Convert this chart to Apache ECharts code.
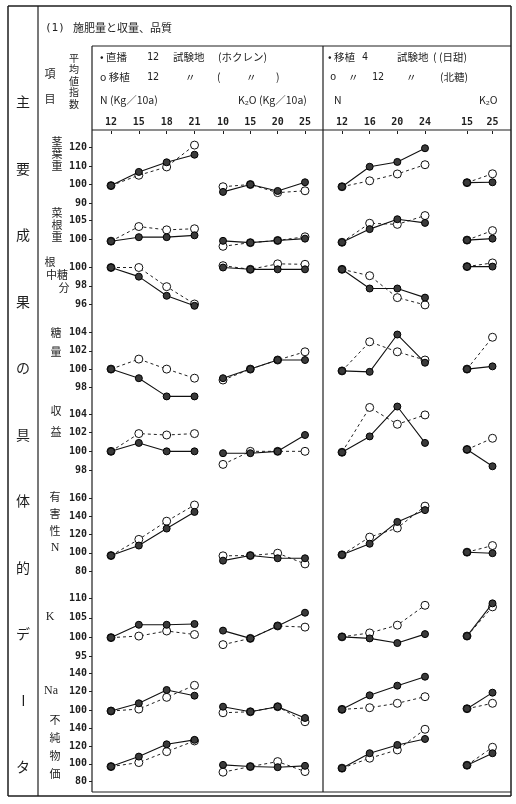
<!DOCTYPE html>
<html>
<head>
<meta charset="utf-8">
<script src="https://cdn.jsdelivr.net/npm/echarts@6/dist/echarts.min.js"></script>
<style>
html,body{margin:0;padding:0;background:#fff}
#main{width:516px;height:804px}
</style>
</head>
<body>
<div id="main"></div>
<script>
// x categories: N / K2O for both test sites
var xN1 = ['12', '15', '18', '21'];
var xK1 = ['10', '15', '20', '25'];
var xN2 = ['12', '16', '20', '24'];
var xK2 = ['15', '25'];

var rowNames = ['茎葉重', '菜根重', '根中糖分', '糖量', '収益', '有害性N', 'K', 'Na', '不純物価'];
var yMin  = [90, 100, 96, 98, 98, 80, 95, 100, 80];
var yMax  = [120, 105, 100, 104, 104, 160, 110, 140, 140];
var yStep = [10, 5, 2, 2, 2, 20, 5, 20, 20];

// each row: N(ホクレン) 4, K2O(ホクレン) 4, N(日甜/北糖) 4, K2O 2
var kyoyoFilled  = [99.4, 106.8, 112, 116.1, 96, 100, 96.5, 101.2, 98.8, 109.6, 112.2, 119.6, 101, 101.2];
var kyoyoOpen    = [99.4, 105, 109.5, 121.3, 98.8, 100, 95.6, 96.6, 98.8, 102, 105.7, 110.7, 101, 105.8];
var konFilled    = [99.4, 100.5, 100.5, 101, 99.5, 99, 99.6, 100.1, 99.1, 102.7, 105.4, 104.4, 99.7, 100.1];
var konOpen      = [99.4, 103.4, 102.5, 102.8, 98, 99, 99.6, 100.6, 99.1, 104.3, 104, 106.4, 99.7, 102.3];
var toubunFilled = [100, 99, 96.9, 95.8, 100, 99.8, 99.8, 99.8, 99.8, 97.7, 97.7, 96.7, 100.1, 100.1];
var toubunOpen   = [100, 100, 97.9, 96.0, 100.2, 99.8, 100.4, 100.35, 99.8, 99.1, 96.7, 95.9, 100.1, 100.5];
var touryoFilled = [100, 99, 97, 97, 99, 100, 101, 101, 99.8, 99.7, 103.8, 100.7, 100, 100.3];
var touryoOpen   = [100, 101.1, 100, 99, 98.8, 100, 101, 101.9, 99.8, 103, 101.9, 101, 100, 103.5];
var shuekiFilled = [100, 100.9, 100, 100, 99.8, 99.8, 100, 101.75, 99.9, 101.6, 104.8, 100.9, 100.2, 98.4];
var shuekiOpen   = [100, 101.9, 101.75, 101.9, 98.6, 100, 100, 100, 99.9, 104.7, 102.9, 103.9, 100.2, 101.4];
var gaiNFilled   = [97, 108, 126.7, 145, 91.4, 97, 94, 94, 97.8, 110, 134, 147, 100.7, 99.6];
var gaiNOpen     = [97, 114.8, 134.8, 152.6, 96.7, 97, 99.6, 87.8, 97.8, 117.3, 127.3, 151.4, 100.7, 108];
var kFilled      = [99.9, 103.2, 103.2, 103.4, 101.7, 99.7, 102.9, 106.3, 100.1, 99.7, 98.5, 100.8, 100.3, 108.7];
var kOpen        = [99.9, 100.3, 101.6, 100.7, 98.1, 99.7, 102.9, 102.6, 100.1, 101.1, 103.1, 108.2, 100.3, 107.8];
var naFilled     = [98.9, 107.3, 121.8, 115.6, 103.6, 98.1, 103.6, 91.3, 100.7, 116, 126.5, 136.3, 101.4, 118.9];
var naOpen       = [98.9, 101, 113.8, 126.9, 97, 98.1, 103.6, 87.2, 100.7, 102.5, 107.3, 114.5, 101.4, 107.3];
var fujunFilled  = [97, 108.2, 122, 127, 98.9, 97, 96.3, 97.8, 95.2, 112, 121.3, 128, 98.5, 112];
var fujunOpen    = [97, 101.5, 113.8, 125.8, 90.7, 97, 102.6, 91.4, 95.2, 106.4, 115.7, 138.9, 98.5, 118.7];

var filledRows = [kyoyoFilled, konFilled, toubunFilled, touryoFilled, shuekiFilled, gaiNFilled, kFilled, naFilled, fujunFilled];
var openRows   = [kyoyoOpen, konOpen, toubunOpen, touryoOpen, shuekiOpen, gaiNOpen, kOpen, naOpen, fujunOpen];

// layout (pixels)
var rowTop    = [147.5, 220.7, 267.5, 332.7, 414, 498.3, 598.3, 673.3, 728.3];
var rowBottom = [203, 239, 304, 387.3, 470, 571, 656.7, 710, 781.7];
var colLeft   = [111, 223, 342, 467];
var colWidth  = [83.5, 82, 83, 25.5];
var colCats   = [xN1, xK1, xN2, xK2];

var MONO = '"DejaVu Sans Mono", monospace';
var JP = '"Noto Sans CJK JP", sans-serif';
var INK = '#1e1e1e';

var grids = [], xAxes = [], yAxes = [], series = [];
for (var r = 0; r < rowNames.length; r++) {
	var start = 0;
	for (var g = 0; g < 4; g++) {
		var idx = grids.length;
		var n = colCats[g].length;
		grids.push({left: colLeft[g], width: colWidth[g], top: rowTop[r], height: rowBottom[r] - rowTop[r]});
		xAxes.push({
			gridIndex: idx, type: 'category', data: colCats[g], boundaryGap: false,
			show: r === 0, position: 'top', offset: rowTop[0] - 131,
			axisLine: {show: false},
			axisTick: {show: true, inside: true, length: 3, lineStyle: {color: INK}},
			axisLabel: {margin: 4, fontSize: 10, fontFamily: MONO, fontWeight: 'bold', color: INK}
		});
		yAxes.push({
			gridIndex: idx, type: 'value', min: yMin[r], max: yMax[r], interval: yStep[r],
			show: g === 0, position: 'left', offset: colLeft[0] - 92,
			axisLine: {show: false},
			axisTick: {show: true, length: 3, lineStyle: {color: INK}},
			axisLabel: {margin: 5, fontSize: 10, fontFamily: MONO, fontWeight: 'bold', color: INK},
			splitLine: {show: false}
		});
		series.push({
			type: 'line', xAxisIndex: idx, yAxisIndex: idx, clip: false, silent: true, z: 2,
			name: g < 2 ? '移植12(ホクレン)' : '移植12(北糖)',
			data: openRows[r].slice(start, start + n),
			symbol: 'circle', symbolSize: 8,
			itemStyle: {color: '#fff', borderColor: '#111', borderWidth: 1},
			lineStyle: {color: '#222', width: 1, type: [3, 3]}
		});
		series.push({
			type: 'line', xAxisIndex: idx, yAxisIndex: idx, clip: false, silent: true, z: 3,
			name: g < 2 ? '直播12(ホクレン)' : '移植4(日甜)',
			data: filledRows[r].slice(start, start + n),
			symbol: 'circle', symbolSize: 7,
			itemStyle: {color: '#3a3a3a', borderColor: '#000', borderWidth: 1},
			lineStyle: {color: '#111', width: 1.1}
		});
		start += n;
	}
}

function line(x1, y1, x2, y2, w) {
	return {type: 'line', shape: {x1: x1, y1: y1, x2: x2, y2: y2}, style: {stroke: INK, lineWidth: w || 1.2}, silent: true};
}
function txt(s, x, y, size, align, font) {
	return {type: 'text', x: x, y: y, silent: true,
		style: {text: s, fill: INK, font: (size || 11) + 'px ' + (font || JP), textAlign: align || 'left', textVerticalAlign: 'middle'}};
}

var gfx = [
	line(8, 6, 511, 6, 1.5), line(8, 796, 511, 796, 1.5),
	line(8, 6, 8, 796, 1.5), line(511, 6, 511, 796, 1.5),
	line(38, 6, 38, 796, 1.2),
	line(92, 46, 511, 46, 1.2), line(92, 46, 92, 792, 1.2),
	line(92, 792, 511, 792, 1.2), line(323, 46, 323, 792, 1.2),
	line(92, 130, 511, 130, 1.2),
	txt('(1)', 45, 28, 11, 'left', MONO), txt('施肥量と収量、品質', 73, 28, 11),
	txt('項', 50, 74, 11, 'center'), txt('目', 50, 99, 11, 'center'),
	txt('平', 74, 58, 10, 'center'), txt('均', 74, 69.5, 10, 'center'), txt('値', 74, 81, 10, 'center'),
	txt('指', 74, 92.5, 10, 'center'), txt('数', 74, 104, 10, 'center'),
	// left legend
	txt('• 直播', 100, 57, 10.5), txt('12', 147, 57, 10, 'left', MONO), txt('試験地', 173, 57, 10.5), txt('(ホクレン)', 218, 57, 10.5),
	txt('o 移植', 100, 77, 10.5), txt('12', 147, 77, 10, 'left', MONO), txt('〃', 185, 77, 10.5),
	txt('(', 217, 77, 10.5), txt('〃', 246, 77, 10.5), txt(')', 276, 77, 10.5),
	txt('N (Kg／10a)', 100, 100, 10.5), txt('K₂O (Kg／10a)', 238, 100, 10.5),
	// right legend
	txt('• 移植', 328, 57, 10.5), txt('4', 362, 57, 10, 'left', MONO), txt('試験地', 397, 57, 10.5), txt('( (日甜)', 433, 57, 10.5),
	txt('o', 330, 77, 10.5, 'left', MONO), txt('〃', 348, 77, 10.5), txt('12', 372, 77, 10, 'left', MONO),
	txt('〃', 406, 77, 10.5), txt('(北糖)', 440, 77, 10.5),
	txt('N', 334, 100, 10.5), txt('K₂O', 479, 100, 10.5)
];

// vertical heading in the left column
var side = ['主', '要', '成', '果', 'の', '具', '体', '的', 'デ', 'ー', 'タ'];
for (var i = 0; i < side.length; i++) {
	var t = txt(side[i], 23, 102 + i * 66.5, 14, 'center');
	if (side[i] === 'ー') { t.rotation = -Math.PI / 2; }
	gfx.push(t);
}

// row labels, stacked characters
var labelPos = [
	[['茎', 57, 142], ['葉', 57, 154], ['重', 57, 166]],
	[['菜', 57, 213], ['根', 57, 225], ['重', 57, 237]],
	[['根', 50, 262], ['中糖', 57, 275], ['分', 64, 288]],
	[['糖', 56, 333], ['量', 56, 352]],
	[['収', 56, 411], ['益', 56, 432]],
	[['有', 55, 497], ['害', 55, 514], ['性', 55, 531], ['N', 55, 548]],
	[['K', 50, 617]],
	[['Na', 51, 691]],
	[['不', 55, 720], ['純', 55, 738], ['物', 55, 756], ['価', 55, 774]]
];
labelPos.forEach(function (row) {
	row.forEach(function (c) {
		var f = /^[A-Za-z]+$/.test(c[0]) ? '"Liberation Serif", serif' : JP;
		gfx.push(txt(c[0], c[1], c[2], /^[A-Za-z]+$/.test(c[0]) ? 12 : 11, 'center', f));
	});
});

var chart = echarts.init(document.getElementById('main'));
chart.setOption({
	animation: false,
	backgroundColor: '#fff',
	grid: grids,
	xAxis: xAxes,
	yAxis: yAxes,
	series: series,
	graphic: gfx
});
window.onresize = function () {
	chart.resize();
};
</script>
</body>
</html>
